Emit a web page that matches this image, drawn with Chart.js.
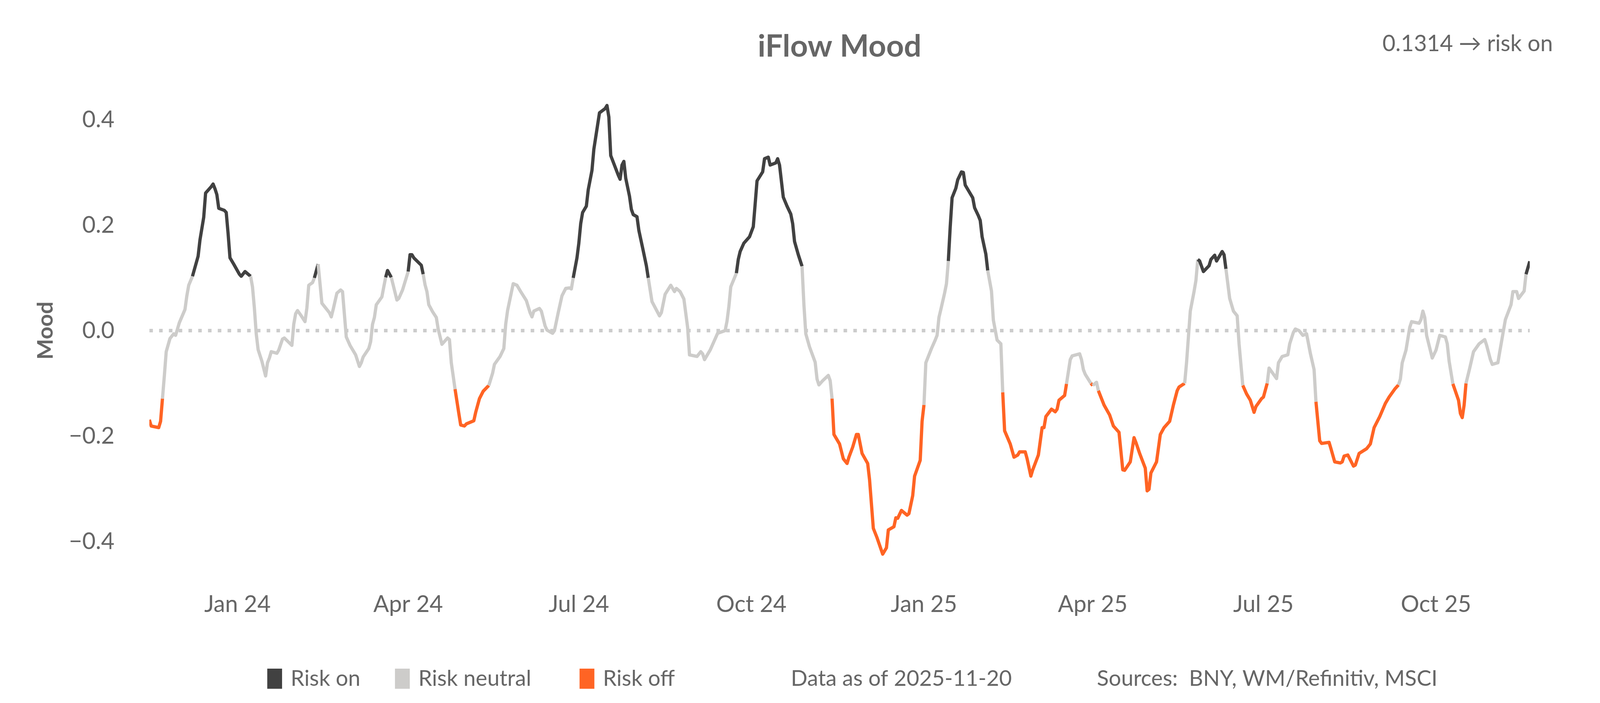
<!DOCTYPE html>
<html>
<head>
<meta charset="utf-8">
<title>iFlow Mood</title>
<script src="https://cdn.jsdelivr.net/npm/chart.js@4.4.1/dist/chart.umd.min.js"></script>
<style>
  html, body { margin: 0; padding: 0; background: #fff; overflow: hidden; }
  #wrap { width: 100vw; height: 100vh; position: relative; }
</style>
</head>
<body>
<div id="wrap"><canvas id="chart"></canvas></div>
<script>
// x values are days counted from 2024-01-01 (last point = 2025-11-20)
const days = [
  -47, -46, -42, -41, -40, -39, -38, -36, -34, -33, -31, -28, -27, -26, -24, -21, -20, -18, -17, -14,
  -13, -12, -11, -10, -7, -6, -5, -4, -2, 1, 2, 4, 7, 8, 9, 10, 11, 13, 15, 16,
  17, 18, 21, 22, 24, 25, 27, 29, 30, 31, 32, 34, 36, 37, 38, 40, 41, 43, 45, 49,
  50, 51, 53, 55, 56, 57, 58, 60, 63, 65, 66, 67, 70, 71, 72, 73, 74, 77, 78, 79,
  80, 82, 85, 86, 88, 91, 92, 93, 94, 98, 99, 100, 101, 102, 104, 106, 107, 109, 112, 113,
  114, 116, 118, 119, 121, 122, 126, 127, 129, 131, 134, 136, 137, 140, 142, 143, 144, 147, 149, 151,
  154, 156, 157, 158, 161, 162, 164, 165, 168, 169, 171, 173, 175, 177, 178, 179, 181, 182, 183, 184,
  186, 187, 189, 190, 192, 193, 196, 197, 198, 199, 203, 204, 205, 206, 207, 209, 210, 211, 213, 214,
  216, 218, 219, 221, 225, 226, 228, 231, 233, 234, 236, 238, 240, 241, 245, 247, 248, 249, 252, 254,
  256, 260, 261, 262, 263, 266, 267, 268, 270, 273, 275, 276, 277, 280, 281, 283, 284, 287, 288, 289,
  291, 293, 295, 296, 297, 299, 301, 302, 303, 305, 308, 309, 310, 312, 315, 316, 317, 318, 321, 323,
  325, 326, 328, 330, 331, 333, 336, 337, 339, 341, 344, 346, 347, 350, 351, 352, 354, 357, 358, 360,
  361, 364, 365, 366, 367, 370, 372, 373, 374, 375, 377, 378, 379, 380, 381, 383, 384, 386, 387, 388,
  390, 392, 393, 395, 396, 397, 399, 400, 402, 403, 405, 407, 408, 409, 412, 414, 416, 417, 420, 421,
  423, 424, 427, 429, 430, 431, 434, 436, 437, 438, 441, 442, 444, 445, 449, 450, 451, 452, 455, 456,
  458, 459, 462, 465, 467, 470, 472, 473, 476, 478, 479, 481, 484, 485, 486, 487, 490, 492, 494, 497,
  499, 501, 502, 505, 506, 507, 508, 510, 511, 512, 513, 515, 518, 519, 521, 522, 525, 526, 527, 529,
  531, 533, 534, 536, 538, 540, 542, 543, 546, 547, 549, 550, 554, 555, 557, 560, 561, 563, 564, 566,
  568, 570, 572, 574, 575, 577, 578, 582, 583, 585, 588, 589, 590, 592, 595, 596, 598, 602, 604, 606,
  609, 612, 614, 617, 619, 620, 621, 623, 625, 626, 630, 631, 632, 633, 634, 637, 639, 641, 644, 645,
  646, 648, 651, 652, 653, 654, 655, 657, 659, 662, 665, 666, 668, 669, 672, 673, 676, 679, 680, 682,
  683, 686, 687, 689
];

const mood = [
  -0.169, -0.181, -0.184, -0.172, -0.129, -0.086, -0.040, -0.015, -0.006, -0.009, 0.015, 0.040, 0.066, 0.086, 0.103, 0.141, 0.172, 0.215, 0.261, 0.273,
  0.278, 0.269, 0.258, 0.232, 0.228, 0.224, 0.184, 0.138, 0.126, 0.107, 0.103, 0.112, 0.103, 0.083, 0.043, -0.006, -0.036, -0.058, -0.086, -0.061,
  -0.052, -0.040, -0.043, -0.037, -0.016, -0.014, -0.021, -0.028, 0.012, 0.032, 0.038, 0.028, 0.017, 0.043, 0.086, 0.091, 0.100, 0.126, 0.052, 0.034,
  0.026, 0.040, 0.071, 0.077, 0.074, 0.031, -0.012, -0.028, -0.046, -0.068, -0.061, -0.050, -0.034, -0.021, 0.012, 0.025, 0.049, 0.064, 0.083, 0.101,
  0.114, 0.101, 0.058, 0.061, 0.077, 0.112, 0.144, 0.144, 0.138, 0.124, 0.107, 0.087, 0.074, 0.049, 0.036, 0.025, 0.003, -0.026, -0.014, -0.017,
  -0.061, -0.111, -0.157, -0.179, -0.181, -0.177, -0.171, -0.155, -0.129, -0.115, -0.104, -0.081, -0.064, -0.049, -0.034, 0.012, 0.038, 0.089, 0.086, 0.074,
  0.057, 0.034, 0.026, 0.037, 0.042, 0.037, 0.009, 0.001, -0.005, 0.000, 0.034, 0.066, 0.080, 0.081, 0.079, 0.100, 0.138, 0.166, 0.203, 0.224,
  0.236, 0.267, 0.304, 0.344, 0.390, 0.413, 0.421, 0.427, 0.405, 0.332, 0.295, 0.287, 0.314, 0.321, 0.289, 0.255, 0.230, 0.220, 0.216, 0.190,
  0.157, 0.123, 0.100, 0.055, 0.028, 0.034, 0.069, 0.086, 0.074, 0.080, 0.074, 0.060, 0.006, -0.046, -0.049, -0.040, -0.044, -0.055, -0.037, -0.021,
  -0.005, 0.000, 0.018, 0.046, 0.083, 0.109, 0.135, 0.150, 0.166, 0.178, 0.197, 0.240, 0.284, 0.301, 0.326, 0.329, 0.314, 0.318, 0.326, 0.314,
  0.253, 0.236, 0.221, 0.203, 0.169, 0.144, 0.122, 0.049, -0.006, -0.031, -0.060, -0.092, -0.103, -0.095, -0.085, -0.095, -0.129, -0.197, -0.215, -0.243,
  -0.252, -0.240, -0.221, -0.197, -0.197, -0.233, -0.252, -0.283, -0.375, -0.393, -0.424, -0.412, -0.378, -0.372, -0.355, -0.356, -0.341, -0.350, -0.347, -0.313,
  -0.276, -0.246, -0.172, -0.141, -0.061, -0.034, -0.018, -0.009, 0.025, 0.040, 0.071, 0.089, 0.132, 0.197, 0.252, 0.270, 0.286, 0.301, 0.300, 0.276,
  0.264, 0.252, 0.233, 0.218, 0.209, 0.178, 0.145, 0.114, 0.075, 0.020, -0.018, -0.025, -0.117, -0.190, -0.215, -0.240, -0.236, -0.230, -0.230, -0.243,
  -0.276, -0.264, -0.236, -0.184, -0.184, -0.163, -0.149, -0.154, -0.149, -0.132, -0.123, -0.101, -0.055, -0.048, -0.044, -0.055, -0.074, -0.083, -0.100, -0.104,
  -0.098, -0.114, -0.141, -0.160, -0.181, -0.193, -0.264, -0.265, -0.249, -0.203, -0.212, -0.233, -0.261, -0.304, -0.301, -0.270, -0.249, -0.197, -0.184, -0.172,
  -0.141, -0.114, -0.107, -0.100, -0.061, -0.012, 0.037, 0.074, 0.095, 0.135, 0.132, 0.112, 0.123, 0.135, 0.143, 0.132, 0.150, 0.144, 0.117, 0.061,
  0.037, 0.028, -0.025, -0.104, -0.120, -0.132, -0.155, -0.144, -0.129, -0.126, -0.100, -0.071, -0.091, -0.061, -0.049, -0.046, -0.025, -0.003, 0.003, 0.000,
  -0.009, -0.006, -0.043, -0.074, -0.135, -0.209, -0.214, -0.212, -0.224, -0.249, -0.251, -0.249, -0.238, -0.236, -0.257, -0.255, -0.233, -0.224, -0.215, -0.184,
  -0.163, -0.138, -0.126, -0.111, -0.103, -0.092, -0.061, -0.037, 0.006, 0.017, 0.014, 0.021, 0.037, 0.025, -0.009, -0.052, -0.037, -0.009, -0.012, -0.025,
  -0.058, -0.101, -0.132, -0.157, -0.165, -0.141, -0.100, -0.071, -0.040, -0.025, -0.017, -0.028, -0.055, -0.064, -0.061, -0.040, 0.021, 0.049, 0.074, 0.074,
  0.061, 0.075, 0.107, 0.1314
];

const tickDays = [0, 91, 182, 274, 366, 456, 547, 639];
const tickLabels = ['Jan 24', 'Apr 24', 'Jul 24', 'Oct 24', 'Jan 25', 'Apr 25', 'Jul 25', 'Oct 25'];
const yTicks = [-0.4, -0.2, 0, 0.2, 0.4];
const stateLabels = ['Risk on', 'Risk neutral', 'Risk off'];
const dataAsOf = '2025-11-20';
const sources = 'BNY, WM/Refinitiv, MSCI';

const RISK_ON = 0.0995;
const RISK_OFF = -0.0995;
const DARK = '#414141';
const NEUTRAL = '#cdccca';
const ORANGE = '#ff6424';
const TEXT = '#666666';
const FONT = 'Lato, "Open Sans", sans-serif';

// layout was measured on a 5400x1800 page; map it onto the real window
const wrap = document.getElementById('wrap');
const kx = wrap.clientWidth / 5400;
const ky = wrap.clientHeight / 1800;
const px = (n) => n * kx;   // horizontal sizes and fonts
const py = (n) => n * ky;   // vertical positions

const points = days.map((d, i) => ({ x: d, y: mood[i] }));

function segColor(ctx) {
  const a = ctx.p0.parsed.y;
  const b = ctx.p1.parsed.y;
  if (Math.min(a, b) >= RISK_ON) return DARK;
  if (Math.max(a, b) <= RISK_OFF) return ORANGE;
  return NEUTRAL;
}

// legend row, footnotes and the latest reading in the corner
const extras = {
  id: 'extras',
  afterDraw(chart) {
    const { ctx } = chart;
    ctx.save();
    ctx.fillStyle = TEXT;
    ctx.textBaseline = 'alphabetic';
    ctx.textAlign = 'left';
    ctx.font = `${px(74)}px ${FONT}`;

    const swatchX = [902, 1333, 1956];
    const swatchCol = [DARK, NEUTRAL, ORANGE];
    const base = py(1756);
    stateLabels.forEach((t, i) => {
      ctx.fillStyle = swatchCol[i];
      ctx.fillRect(px(swatchX[i]), base - px(58), px(50), px(68));
      ctx.fillStyle = TEXT;
      ctx.fillText(t, px(swatchX[i] + 79), base);
    });
    ctx.fillText('Data as of ' + dataAsOf, px(2669), base);
    ctx.fillText('Sources:  ' + sources, px(3702), base);

    const last = mood[mood.length - 1];
    const state = last >= RISK_ON ? 'risk on' : (last <= RISK_OFF ? 'risk off' : 'risk neutral');
    ctx.textAlign = 'right';
    ctx.font = `${px(76)}px ${FONT}`;
    ctx.fillText(`${last.toFixed(4)} \u2192 ${state}`, px(5241), py(110) + px(28));
    ctx.restore();
  }
};

const titleSize = px(104);
const titleTop = py(120) - titleSize * 0.6;
const titleBottom = py(212) - titleTop - titleSize * 1.2;

new Chart(document.getElementById('chart'), {
  type: 'line',
  data: {
    datasets: [
      {
        label: 'Mood',
        data: points,
        borderWidth: px(11),
        borderColor: NEUTRAL,
        segment: { borderColor: segColor },
        borderJoinStyle: 'round',
        pointRadius: 0,
        tension: 0,
        fill: false,
      },
      {
        label: 'zero',
        data: [{ x: days[0], y: 0 }, { x: days[days.length - 1], y: 0 }],
        borderColor: '#cccccc',
        borderWidth: px(12),
        borderDash: [px(12), px(21)],
        pointRadius: 0,
        fill: false,
      },
    ],
  },
  options: {
    responsive: true,
    maintainAspectRatio: false,
    animation: false,
    layout: { padding: { left: 0, right: px(237), top: 0, bottom: py(200) } },
    plugins: {
      legend: { display: false },
      tooltip: { enabled: false },
      title: {
        display: true,
        text: 'iFlow Mood',
        fullSize: false,
        color: TEXT,
        font: { family: FONT, size: titleSize, weight: 'bold', lineHeight: 1.2 },
        padding: { top: titleTop, bottom: titleBottom },
      },
    },
    scales: {
      x: {
        type: 'linear',
        min: days[0],
        max: days[days.length - 1],
        grid: { display: false },
        border: { display: false },
        afterBuildTicks: (s) => { s.ticks = tickDays.map((v) => ({ value: v })); },
        afterFit: (s) => { s.height = py(119); },
        ticks: {
          autoSkip: false,
          maxRotation: 0,
          padding: py(59) - px(47),
          color: TEXT,
          font: { family: FONT, size: px(78) },
          callback: (v) => tickLabels[tickDays.indexOf(v)],
        },
      },
      y: {
        min: -0.47,
        max: 0.47,
        grid: { display: false },
        border: { display: false },
        afterBuildTicks: (s) => { s.ticks = yTicks.map((v) => ({ value: v })); },
        afterFit: (s) => { s.width = px(504); },
        title: {
          display: true,
          text: 'Mood',
          color: TEXT,
          font: { family: FONT, size: px(74), weight: 'bold' },
          padding: { top: px(110), bottom: 0 },
        },
        ticks: {
          padding: px(107),
          color: TEXT,
          font: { family: FONT, size: px(78) },
          callback: (v) => (v < 0 ? '\u2212' : '') + Math.abs(v).toFixed(1),
        },
      },
    },
  },
  plugins: [extras],
});
</script>
</body>
</html>
